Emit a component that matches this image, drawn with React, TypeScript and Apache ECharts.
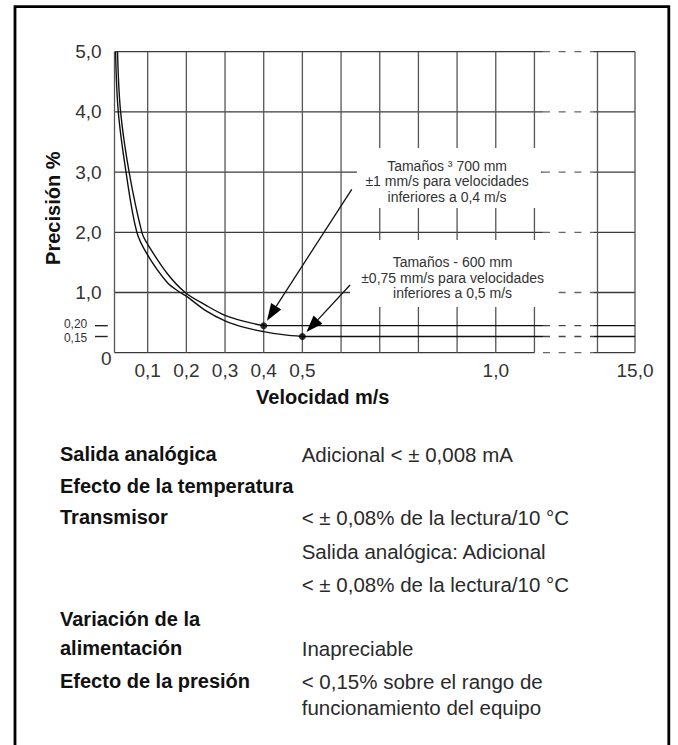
import React, { useEffect, useRef } from 'react';
import * as echarts from 'echarts';

const FONT = '"Liberation Sans", Arial, Helvetica, sans-serif';

// Axis ranges (visual units; x axis is broken after 1,1)
const xMin = 0.0142;
const xMax = 1.36;
const yMin = 0;
const yMax = 5;

const xTickValues = [0.1, 0.2, 0.3, 0.4, 0.5, 1.0, 1.36];
const xTickLabels = ['0,1', '0,2', '0,3', '0,4', '0,5', '1,0', '15,0'];
const yTickValues = [1, 2, 3, 4, 5];
const yTickLabels = ['1,0', '2,0', '3,0', '4,0', '5,0'];

const xGridValues = [0.1, 0.2, 0.3, 0.4, 0.5, 0.6, 0.7, 0.8, 0.9, 1.0, 1.1, 1.263, 1.36];
const yGridValues = [0, 1, 2, 3, 4, 5];
const breakStart = 1.122;
const breakEnd = 1.252;

// Curves
const upperX = [0.022, 0.030, 0.052, 0.085, 0.100, 0.150, 0.197, 0.250, 0.300, 0.350, 0.400];
const upperY = [5.00, 4.00, 3.00, 2.00, 1.80, 1.32, 1.00, 0.79, 0.62, 0.52, 0.449];
const lowerX = [0.017, 0.024, 0.044, 0.072, 0.100, 0.150, 0.184, 0.200, 0.250, 0.300, 0.350, 0.400, 0.450, 0.500];
const lowerY = [5.00, 4.00, 3.00, 2.00, 1.62, 1.17, 1.00, 0.94, 0.70, 0.53, 0.42, 0.35, 0.30, 0.269];

// Plateaus (flat accuracy) and their labels
const plateauStart = [0.4, 0.5];
const plateauLevel = [0.449, 0.269];
const plateauLabels = ['0,20', '0,15'];

// Annotations
const noteTexts = [
  ['Tamaños ³ 700 mm', '±1 mm/s para velocidades', 'inferiores a 0,4 m/s'],
  ['Tamaños - 600 mm', '±0,75 mm/s para velocidades', 'inferiores a 0,5 m/s'],
];
const noteBoxX = [0.8788, 0.8909];
const noteBoxY = [2.902, 1.316];
const noteTextX = [0.8741, 0.8883];
const noteTextY = [2.849, 1.244];
const arrowTailX = [0.6276, 0.6232];
const arrowTailY = [2.714, 1.125];

// Specification table below the chart
const leftLabels = ['Salida analógica', 'Efecto de la temperatura', 'Transmisor', 'Variación de la', 'alimentación', 'Efecto de la presión'];
const leftRows = [0, 1, 2, 5, 6, 7];
const rightTexts = [
  'Adicional < ± 0,008 mA',
  '< ± 0,08% de la lectura/10 °C',
  'Salida analógica: Adicional',
  '< ± 0,08% de la lectura/10 °C',
  'Inapreciable',
  '< 0,15% sobre el rango de',
  'funcionamiento del equipo',
];
const rightRows = [0, 2, 3, 4, 6, 7, 8];

// layout constants
const ROW_Y = [454, 486, 517, 551, 584, 619, 648, 681, 707];
const NOTE_BOX_W = [184, 207];
const NOTE_BOX_H = [60, 67];
const PLATEAU_LABEL_NUDGE = [-1.3, 1.3];

function fmt(values: number[], labels: string[]) {
  return (v: number) => {
    for (let i = 0; i < values.length; i++) if (Math.abs(values[i] - v) < 1e-6) return labels[i];
    return '';
  };
}

export default function App() {
  const ref = useRef<HTMLDivElement>(null);

  useEffect(() => {
    if (!ref.current) return;
    const chart = echarts.init(ref.current, null, { renderer: 'svg' });

    // grid segments [x1,y1,x2,y2,kind]; kind 0 = h solid, 1 = dashed, 2 = vertical, 3 = plateau solid, 4 = plateau dashed
    const segs: number[][] = [];
    yGridValues.forEach((y) => {
      segs.push([xMin, y, y === 0 ? 1.1 : breakStart, y, 0]);
      segs.push([breakStart, y, breakEnd, y, 1]);
      segs.push([breakEnd, y, xMax, y, 0]);
    });
    [xMin, ...xGridValues].forEach((x) => segs.push([x, yMin, x, yMax, 2]));
    plateauStart.forEach((s, i) => {
      segs.push([s, plateauLevel[i], breakStart, plateauLevel[i], 3]);
      segs.push([breakStart, plateauLevel[i], breakEnd, plateauLevel[i], 4]);
      segs.push([breakEnd, plateauLevel[i], xMax, plateauLevel[i], 3]);
    });

    const notes = noteTexts.map((_, i) => [
      noteBoxX[i], noteBoxY[i], noteTextX[i], noteTextY[i],
      arrowTailX[i], arrowTailY[i], plateauStart[i], plateauLevel[i], i,
    ]);

    const option: any = {
      animation: false,
      grid: { left: 114.5, right: 43, top: 51.7, bottom: 392.3, outerBoundsMode: 'none' },
      xAxis: {
        type: 'value', min: xMin, max: xMax,
        name: 'Velocidad m/s', nameLocation: 'middle', nameGap: 34,
        nameTextStyle: { fontFamily: FONT, fontWeight: 'bold', fontSize: 20, color: '#111', padding: [0, 104, 0, 0] },
        axisLine: { show: false }, axisTick: { show: false }, splitLine: { show: false },
        axisLabel: {
          customValues: xTickValues, formatter: fmt(xTickValues, xTickLabels), margin: 8.5,
          fontFamily: FONT, fontSize: 19, color: '#333', hideOverlap: false,
        },
      },
      yAxis: {
        type: 'value', min: yMin, max: yMax,
        name: 'Precisión %', nameLocation: 'middle', nameGap: 51.5, nameRotate: 90,
        nameTextStyle: { fontFamily: FONT, fontWeight: 'bold', fontSize: 20, color: '#111', padding: [0, 12, 0, 0] },
        axisLine: { show: false }, axisTick: { show: false }, splitLine: { show: false },
        axisLabel: {
          customValues: yTickValues, formatter: fmt(yTickValues, yTickLabels), margin: 12.8,
          fontFamily: FONT, fontSize: 19, color: '#333',
        },
      },
      graphic: [
        {
          type: 'rect', z: -10, silent: true,
          shape: { x: 15, y: 6.7, width: 653.8, height: 800 },
          style: { fill: 'none', stroke: '#000', lineWidth: 2.8 },
        },
        ...leftLabels.map((t, i) => ({
          type: 'text', x: 60, y: ROW_Y[leftRows[i]], silent: true,
          style: { text: t, fontFamily: FONT, fontSize: 20, fontWeight: 'bold', fill: '#111', verticalAlign: 'middle', align: 'left' },
        })),
        ...rightTexts.map((t, i) => ({
          type: 'text', x: 301.7, y: ROW_Y[rightRows[i]], silent: true,
          style: { text: t, fontFamily: FONT, fontSize: 20.5, fill: '#2a2a2a', verticalAlign: 'middle', align: 'left' },
        })),
      ],
      series: [
        {
          type: 'custom', name: 'grid', z: 1, silent: true, clip: false,
          dimensions: ['x1', 'y1', 'x2', 'y2', 'kind'],
          encode: { x: [0, 2], y: [1, 3] },
          data: segs,
          renderItem: (params: any, api: any) => {
            const p1 = api.coord([api.value(0), api.value(1)]);
            const p2 = api.coord([api.value(2), api.value(3)]);
            const kind = api.value(4);
            const style: any =
              kind === 0 ? { stroke: '#3a3a3a', lineWidth: 1.3 } :
              kind === 1 ? { stroke: '#666', lineWidth: 1.3, lineDash: [7, 8.7] } :
              kind === 2 ? { stroke: '#555', lineWidth: 1.3 } :
              kind === 3 ? { stroke: '#111', lineWidth: 1.4 } :
              { stroke: '#444', lineWidth: 1.4, lineDash: [7, 8.7] };
            return { type: 'line', shape: { x1: p1[0], y1: p1[1], x2: p2[0], y2: p2[1] }, style };
          },
        },
        {
          type: 'line', name: 'Tamaños ≥ 700 mm', z: 3, silent: true,
          data: upperX.map((x, i) => [x, upperY[i]]),
          smooth: 0.35, showSymbol: false,
          lineStyle: { color: '#111', width: 1.4 },
        },
        {
          type: 'line', name: 'Tamaños - 600 mm', z: 3, silent: true,
          data: lowerX.map((x, i) => [x, lowerY[i]]),
          smooth: 0.35, showSymbol: false,
          lineStyle: { color: '#111', width: 1.4 },
        },
        {
          type: 'scatter', name: 'puntos', z: 4, silent: true,
          data: plateauStart.map((x, i) => [x, plateauLevel[i]]),
          symbol: 'circle', symbolSize: 7, itemStyle: { color: '#000' },
        },
        {
          type: 'custom', name: 'notas', z: 5, silent: true, clip: false,
          dimensions: ['bx', 'by', 'tx', 'ty', 'ax', 'ay', 'px', 'py', 'idx'],
          encode: { x: [0], y: [1] },
          data: notes,
          renderItem: (params: any, api: any) => {
            const idx = api.value(8);
            const b = api.coord([api.value(0), api.value(1)]);
            const t = api.coord([api.value(2), api.value(3)]);
            const tail = api.coord([api.value(4), api.value(5)]);
            const pt = api.coord([api.value(6), api.value(7)]);
            const dx = tail[0] - pt[0];
            const dy = tail[1] - pt[1];
            const len = Math.sqrt(dx * dx + dy * dy);
            const ux = dx / len, uy = dy / len;
            const tip = [pt[0] + ux * 6, pt[1] + uy * 6];
            const base = [tip[0] + ux * 17, tip[1] + uy * 17];
            const px = -uy, py = ux;
            const w = NOTE_BOX_W[idx], h = NOTE_BOX_H[idx];
            return {
              type: 'group',
              children: [
                { type: 'rect', shape: { x: b[0] - w / 2, y: b[1] - h / 2, width: w, height: h }, style: { fill: '#fff' } },
                {
                  type: 'text', x: t[0], y: t[1],
                  style: {
                    text: noteTexts[idx].join('\n'), fontFamily: FONT, fontSize: 14, fill: '#333',
                    align: 'center', verticalAlign: 'middle', lineHeight: 15.5,
                  },
                },
                { type: 'line', shape: { x1: tail[0], y1: tail[1], x2: base[0], y2: base[1] }, style: { stroke: '#111', lineWidth: 1.3 } },
                {
                  type: 'polygon',
                  shape: { points: [tip, [base[0] + px * 6, base[1] + py * 6], [base[0] - px * 6, base[1] - py * 6]] },
                  style: { fill: '#000' },
                },
              ],
            };
          },
        },
        {
          type: 'custom', name: 'etiquetas', z: 5, silent: true, clip: false,
          dimensions: ['y', 'idx'],
          encode: { y: [0] },
          data: plateauLevel.map((y, i) => [y, i]),
          renderItem: (params: any, api: any) => {
            const idx = api.value(1);
            const p = api.coord([xMin, api.value(0)]);
            const children: any[] = [
              {
                type: 'text', x: p[0] - 27.2, y: p[1] + PLATEAU_LABEL_NUDGE[idx],
                style: {
                  text: plateauLabels[idx], fontFamily: FONT, fontSize: 12, lineHeight: 12,
                  fill: '#333', align: 'right', verticalAlign: 'middle',
                },
              },
              { type: 'line', shape: { x1: p[0] - 19.5, y1: p[1], x2: p[0] - 6.8, y2: p[1] }, style: { stroke: '#222', lineWidth: 1.4 } },
            ];
            if (idx === 0) {
              const z = api.coord([xMin, yMin]);
              children.push({
                type: 'text', x: z[0] - 2.8, y: z[1] + 5.3,
                style: { text: '0', fontFamily: FONT, fontSize: 19, fill: '#333', align: 'right', verticalAlign: 'middle' },
              });
            }
            return { type: 'group', children };
          },
        },
      ],
    };

    chart.setOption(option);
    return () => chart.dispose();
  }, []);

  return <div ref={ref} style={{ position: 'absolute', left: 0, top: 0, width: 678, height: 745, background: '#fff' }} />;
}
